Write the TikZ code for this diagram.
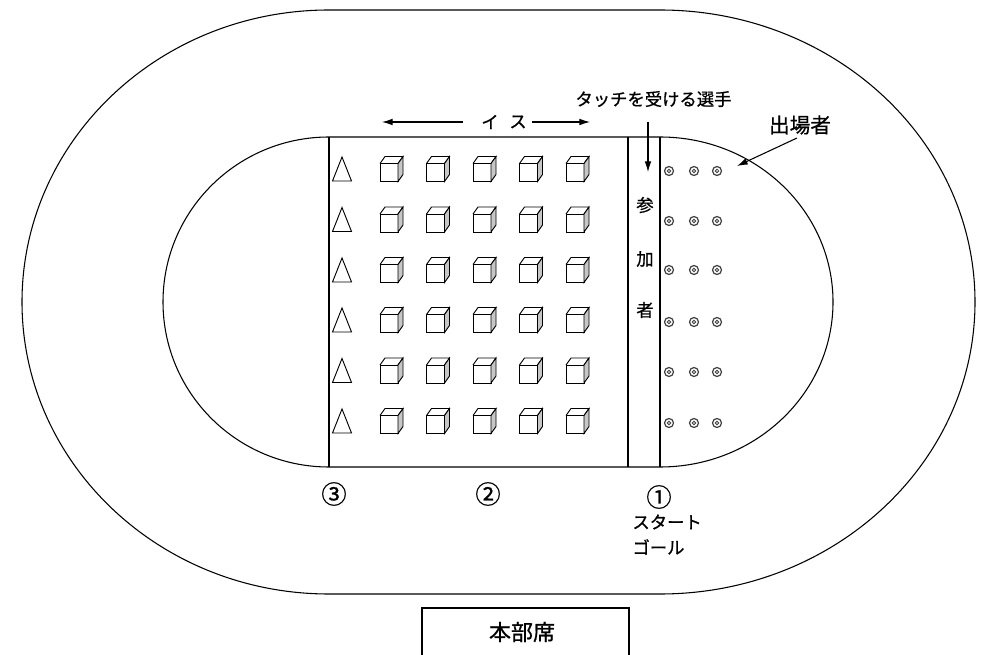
\documentclass[tikz,border=0pt]{standalone}
\usepackage{fontspec}
\setmainfont{Noto Sans CJK JP}[FakeBold=0.8]
\usetikzlibrary{arrows.meta}
\begin{document}
\begin{tikzpicture}[x=0.75pt,y=-0.75pt, line width=0.7pt,
  track/.style={line width=0.8pt},
  lbl/.style={inner sep=0pt, font=\fontsize{13pt}{15pt}\selectfont},
  numlbl/.style={inner sep=0pt, font=\fontsize{19pt}{21pt}\selectfont},
  biglbl/.style={inner sep=0pt, font=\fontsize{15.5pt}{18pt}\selectfont},
  hqlbl/.style={inner sep=0pt, font=\fontsize{16.5pt}{19pt}\selectfont},
  arr/.style={-{Latex[length=8pt,width=5pt]}, line width=0.8pt},
  cube/.pic={
    \draw[fill=white] (-11.5,-5.5) rectangle (6.5,12.5);
    \draw (-11.5,-5.5) -- (-6.5,-12.5) -- (11.5,-12.5) -- (6.5,-5.5);
    \draw[fill=gray!45] (6.5,-5.5) -- (11.5,-12.5) -- (11.5,5.5) -- (6.5,12.5) -- cycle;
  },
  tri/.pic={\draw (0,-12) -- (-9.5,12) -- (9.5,12) -- cycle;},
  dblc/.pic={\draw[line width=0.9pt, black!75] (0,0) circle[radius=4.5]; \draw[line width=0.6pt, black!75] (0,0) circle[radius=1.8];}
]
\useasboundingbox (0,0) rectangle (984,655);
\fill[white] (0,0) rectangle (984,655);

% outer track
\draw[track] (329,10) -- (660,10)
  arc[start angle=-90, end angle=90, x radius=315, y radius=292]
  -- (329,594)
  arc[start angle=90, end angle=270, x radius=307, y radius=292] -- cycle;
% inner field
\draw[track] (329,137) -- (660,137)
  arc[start angle=-90, end angle=90, x radius=173, y radius=165]
  -- (329,467)
  arc[start angle=90, end angle=270, x radius=166, y radius=165] -- cycle;
\draw[track] (329,137) -- (329,467);
\draw[track] (628,137) -- (628,467);
\draw[track] (660,137) -- (660,467);

% triangles, cubes, participants
\foreach \r/\y in {1/169,2/219.5,3/270,4/320,5/370.5,6/421}{
  \pic (t\r) at (342,\y) {tri};
  \foreach \c/\x in {1/391.5,2/438,3/484.5,4/531,5/577.5}{
    \pic (c\r\c) at (\x,\y) {cube};
  }
}
\foreach \r/\y in {1/171,2/221,3/270,4/322,5/372,6/423}{
  \foreach \c/\x in {1/669,2/694,3/717}{
    \pic (p\r\c) at (\x,\y) {dblc};
  }
}

% chairs label
\node[lbl] (i) at (490,122) {イ};
\node[lbl] (su) at (518,122) {ス};
\coordinate (iLs) at (463,122);
\coordinate (iLt) at (382,122);
\coordinate (iRs) at (532,122);
\coordinate (iRt) at (590,122);
\draw[arr] (iLs) -- (iLt);
\draw[arr] (iRs) -- (iRt);

% touch label
\node[lbl] (touch) at (653.5,99) {タッチを受ける選手};
\coordinate (tS) at (648,122);
\coordinate (tT) at (648,172);
\draw[arr] (tS) -- (tT);

% participants vertical label
\node[lbl] (k1) at (645,205) {参};
\node[lbl] (k2) at (645,259) {加};
\node[lbl] (k3) at (645,310) {者};

% entrants
\node[biglbl] (ent) at (800,125) {出場者};
\coordinate (eS) at (797,138);
\coordinate (eT) at (737,166);
\draw[arr] (eS) -- (eT);

% numbers
\node[numlbl] (n3) at (334,494) {③};
\node[numlbl] (n2) at (488,494) {②};
\node[numlbl] (n1) at (659,497) {①};
\node[lbl, anchor=west] (st) at (632,522) {スタート};
\node[lbl, anchor=west] (gl) at (632,547) {ゴール};

% headquarters
\draw[track] (422,660) -- (422,608) -- (629,608) -- (629,660);
\node[hqlbl] (hq) at (522,632) {本部席};
\end{tikzpicture}
\end{document}
